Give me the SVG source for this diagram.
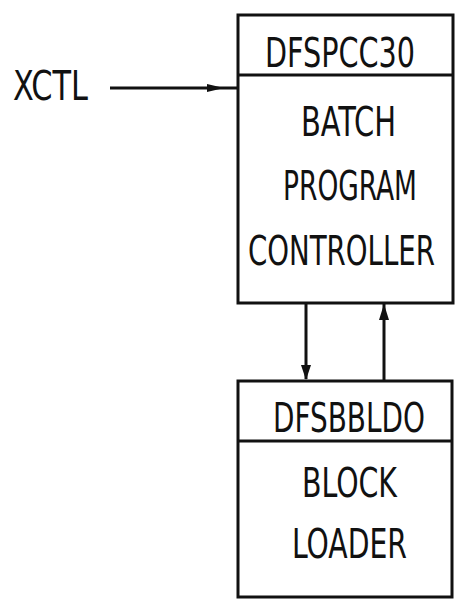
<svg xmlns="http://www.w3.org/2000/svg" width="455" height="599" viewBox="0 0 455 599">
<defs>
<style>
.box{fill:#fff;stroke:#111;stroke-width:3}
.ln{stroke:#111;stroke-width:3;fill:none}
.t{font-family:"DejaVu Sans Condensed","DejaVu Sans",sans-serif;font-stretch:condensed;font-size:41px;fill:#111;text-anchor:start}
</style>
</defs>
<rect width="455" height="599" fill="#fff"/>
<g id="connectors">
<line class="ln" x1="110" y1="88" x2="237" y2="88"/>
<path d="M207,84 L224,88 L207,92 z" fill="#111"/>
<line class="ln" x1="306" y1="303" x2="306" y2="379"/>
<path d="M301,365 L306,380 L311,365 z" fill="#111"/>
<line class="ln" x1="384" y1="380" x2="384" y2="304"/>
<path d="M379,320 L384,304 L389,320 z" fill="#111"/>
</g>
<g id="xctl">
<text class="t" transform="scale(0.75,1)" x="17.33" y="100" textLength="100" lengthAdjust="spacingAndGlyphs">XCTL</text>
</g>
<g id="dfspcc30">
<rect class="box" x="238" y="15" width="215" height="288"/>
<line class="ln" x1="238" y1="75" x2="453" y2="75"/>
<text class="t" transform="scale(0.75,1)" x="353.33" y="67" textLength="200" lengthAdjust="spacingAndGlyphs">DFSPCC30</text>
<text class="t" transform="scale(0.75,1)" x="401.33" y="136" textLength="126.67" lengthAdjust="spacingAndGlyphs">BATCH</text>
<text class="t" transform="scale(0.75,1)" x="377.33" y="200" textLength="178.67" lengthAdjust="spacingAndGlyphs">PROGRAM</text>
<text class="t" transform="scale(0.75,1)" x="330.67" y="265" textLength="249.33" lengthAdjust="spacingAndGlyphs">CONTROLLER</text>
</g>
<g id="dfsbbldo">
<rect class="box" x="238" y="381" width="214" height="216"/>
<line class="ln" x1="238" y1="441" x2="452" y2="441"/>
<text class="t" transform="scale(0.75,1)" x="364" y="432" textLength="202.67" lengthAdjust="spacingAndGlyphs">DFSBBLDO</text>
<text class="t" transform="scale(0.75,1)" x="402.67" y="497" textLength="126.67" lengthAdjust="spacingAndGlyphs">BLOCK</text>
<text class="t" transform="scale(0.75,1)" x="389.33" y="558" textLength="153.33" lengthAdjust="spacingAndGlyphs">LOADER</text>
</g>
</svg>
